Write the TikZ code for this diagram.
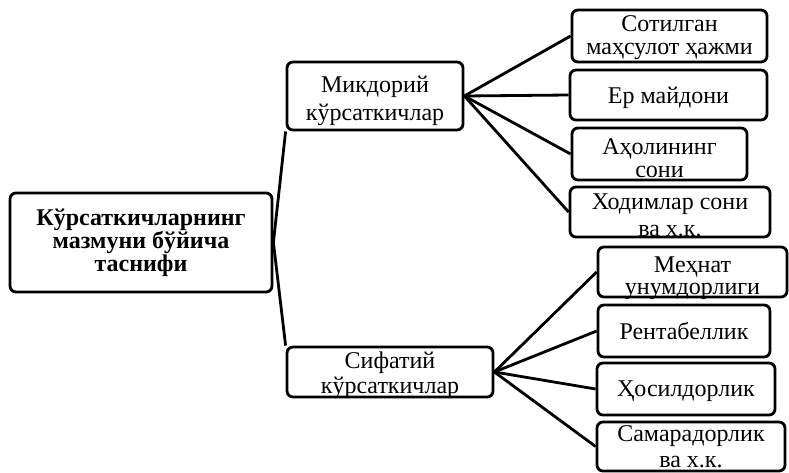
\documentclass[tikz,border=0pt]{standalone}
\usepackage{fontspec}
\setmainfont{Liberation Serif}
\begin{document}
\begin{tikzpicture}[x=1pt,y=-1pt,
  box/.style={draw,line width=2.8pt,rounded corners=6pt,inner sep=0pt},
  lbl/.style={align=center,inner sep=0pt,font=\fontsize{24}{23}\selectfont},
  rootlbl/.style={align=center,inner sep=0pt,font=\fontsize{24}{20.5}\selectfont\bfseries},
  conn/.style={line width=2.8pt}]
\useasboundingbox (0,0) rectangle (789,473);
% boxes
\node[box,minimum width=262pt,minimum height=99pt] (root) at (141,242.5) {};
\node[box,minimum width=176pt,minimum height=68pt] (mik) at (375,96) {};
\node[box,minimum width=206pt,minimum height=50pt] (sif) at (390,372) {};
\node[box,minimum width=195pt,minimum height=52pt] (b1) at (669.5,36) {};
\node[box,minimum width=197pt,minimum height=50pt] (b2) at (668.5,95) {};
\node[box,minimum width=175pt,minimum height=52pt] (b3) at (659.5,154) {};
\node[box,minimum width=200pt,minimum height=50pt] (b4) at (670,212) {};
\node[box,minimum width=189pt,minimum height=50pt] (b5) at (692.5,272) {};
\node[box,minimum width=172pt,minimum height=52pt] (b6) at (684,331) {};
\node[box,minimum width=178pt,minimum height=52pt] (b7) at (686,389) {};
\node[box,minimum width=188pt,minimum height=49pt] (b8) at (691,446.5) {};
% labels
\node[rootlbl] (troot) at (root.center) {Кўрсаткичларнинг\\мазмуни бўйича\\таснифи};
\node[lbl,font=\fontsize{24}{28}\selectfont] (tmik) at ([yshift=-4.5pt]mik.center) {Микдорий\\кўрсаткичлар};
\node[lbl,font=\fontsize{24}{25}\selectfont] (tsif) at ([yshift=-3pt]sif.center) {Сифатий\\кўрсаткичлар};
\node[lbl] (t1) at ([yshift=-2pt]b1.center) {Сотилган\\маҳсулот ҳажми};
\node[lbl] (t2) at ([yshift=-2.5pt]b2.center) {Ер майдони};
\node[lbl] (t3) at ([yshift=-4pt]b3.center) {Аҳолининг\\сони};
\node[lbl,font=\fontsize{24}{27}\selectfont] (t4) at ([yshift=-3pt]b4.center) {Ходимлар сони\\ва х.к.};
\node[lbl,font=\fontsize{24}{22}\selectfont] (t5) at ([yshift=-6.5pt]b5.center) {Меҳнат\\унумдорлиги};
\node[lbl] (t6) at (b6.center) {Рентабеллик};
\node[lbl] (t7) at ([yshift=-2.5pt]b7.center) {Ҳосилдорлик};
\node[lbl,font=\fontsize{24}{26}\selectfont] (t8) at (b8.center) {Самарадорлик\\ва х.к.};
% connectors
\draw[conn] (mik.south west) -- (root.east) -- (sif.north west);
\foreach \b in {b1,b2,b3,b4} \draw[conn] (mik.east) -- (\b.west);
\foreach \b in {b5,b6,b7,b8} \draw[conn] (sif.east) -- (\b.west);
\end{tikzpicture}
\end{document}
